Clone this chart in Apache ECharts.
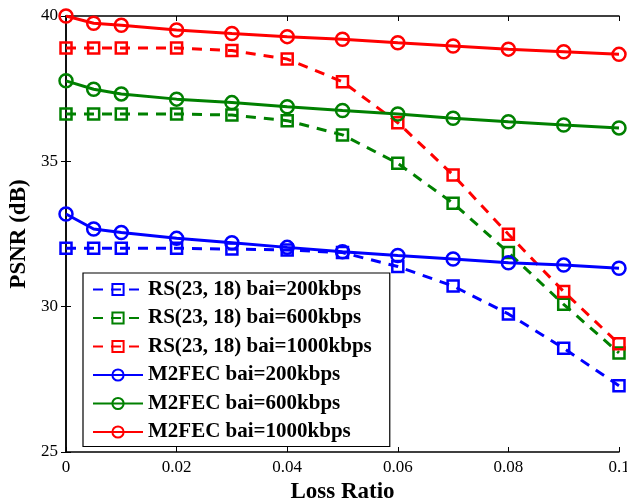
<!DOCTYPE html>
<html><head><meta charset="utf-8">
<script src="https://cdn.jsdelivr.net/npm/echarts@6/dist/echarts.min.js"></script>
<style>html,body{margin:0;padding:0;background:#fff}#c{width:627px;height:498px}</style>
</head><body><div id="c"></div>
<script>
const lossRatio = [0, 0.005, 0.01, 0.02, 0.03, 0.04, 0.05, 0.06, 0.07, 0.08, 0.09, 0.1];
const rs200  = [32.01, 32.01, 32.01, 32.01, 31.98, 31.95, 31.86, 31.38, 30.71, 29.75, 28.57, 27.28];
const rs600  = [36.63, 36.63, 36.63, 36.63, 36.59, 36.40, 35.91, 34.93, 33.56, 31.86, 30.08, 28.41];
const rs1000 = [38.90, 38.90, 38.90, 38.90, 38.81, 38.52, 37.74, 36.33, 34.53, 32.49, 30.52, 28.72];
const m200   = [33.19, 32.67, 32.55, 32.35, 32.20, 32.04, 31.89, 31.76, 31.64, 31.51, 31.43, 31.32];
const m600   = [37.77, 37.48, 37.32, 37.14, 37.02, 36.88, 36.75, 36.63, 36.48, 36.36, 36.25, 36.15];
const m1000  = [40.00, 39.75, 39.68, 39.52, 39.40, 39.29, 39.20, 39.08, 38.97, 38.86, 38.77, 38.68];
const xTicks = [0, 0.02, 0.04, 0.06, 0.08, 0.1];
const yTicks = [25, 30, 35, 40];
const names = ['RS(23, 18) bai=200kbps','RS(23, 18) bai=600kbps','RS(23, 18) bai=1000kbps','M2FEC bai=200kbps','M2FEC bai=600kbps','M2FEC bai=1000kbps'];

const BLUE='#0000ff', GREEN='#008000', RED='#ff0000';
const FONT='"Liberation Serif", "DejaVu Serif", serif';
function pairs(v){ return lossRatio.map((x,i)=>[x,v[i]]); }
function mk(name, vals, color, dashed){
  return {
    name, type:'line', data:pairs(vals), xAxisIndex:0, yAxisIndex:0,
    symbol: dashed ? 'rect' : 'circle',
    symbolSize: dashed ? 11 : 13,
    showAllSymbol:true,
    lineStyle:{color, width:3, type: dashed ? [10,8] : 'solid'},
    itemStyle:{color:'rgba(255,255,255,0)', borderColor:color, borderWidth:2.5},
    emphasis:{disabled:true}, animation:false, z: dashed?2:3
  };
}
const chart = echarts.init(document.getElementById('c'));
const axisCommon = {
  axisLine:{lineStyle:{color:'#000', width:1.5}},
  axisTick:{inside:true, length:5, lineStyle:{color:'#000', width:1}},
  splitLine:{show:false}
};
chart.setOption({
  animation:false,
  backgroundColor:'#fff',
  grid:{left:66, right:8, top:16, bottom:46, containLabel:false, outerBoundsMode:'none'},
  xAxis:[
    Object.assign({type:'value', min:0, max:0.1, interval:0.02, position:'bottom',
      name:'Loss Ratio', nameLocation:'middle', nameGap:24,
      nameTextStyle:{fontFamily:FONT, fontWeight:'bold', fontSize:23, color:'#000'},
      axisLabel:{fontFamily:FONT, fontSize:17, color:'#000', margin:7,
        formatter:v=>xTicks.includes(+v.toFixed(3))? String(+v.toFixed(3)) : ''}}, axisCommon),
    Object.assign({type:'value', min:0, max:0.1, interval:0.02, position:'top', axisLabel:{show:false}}, axisCommon)
  ],
  yAxis:[
    Object.assign({type:'value', min:25, max:40, interval:5, position:'left',
      name:'PSNR (dB)', nameLocation:'middle', nameGap:27,
      nameTextStyle:{fontFamily:FONT, fontWeight:'bold', fontSize:23, color:'#000'},
      axisLabel:{fontFamily:FONT, fontSize:17, color:'#000', margin:8,
        formatter:v=>yTicks.includes(v)?String(v):''}}, axisCommon),
    Object.assign({type:'value', min:25, max:40, interval:5, position:'right', axisLabel:{show:false}}, axisCommon)
  ],
  legend:{
    orient:'vertical', left:83, top:273, width:310,
    backgroundColor:'#fff', borderColor:'#000', borderWidth:1.2, borderRadius:0,
    padding:[6,18,4,9], itemGap:7.5, itemWidth:50, itemHeight:14,
    textStyle:{fontFamily:FONT, fontWeight:'bold', fontSize:21, color:'#000'},
    data:names
  },
  series:[
    mk(names[0], rs200, BLUE, true),
    mk(names[1], rs600, GREEN, true),
    mk(names[2], rs1000, RED, true),
    mk(names[3], m200, BLUE, false),
    mk(names[4], m600, GREEN, false),
    mk(names[5], m1000, RED, false)
  ]
});
</script></body></html>
